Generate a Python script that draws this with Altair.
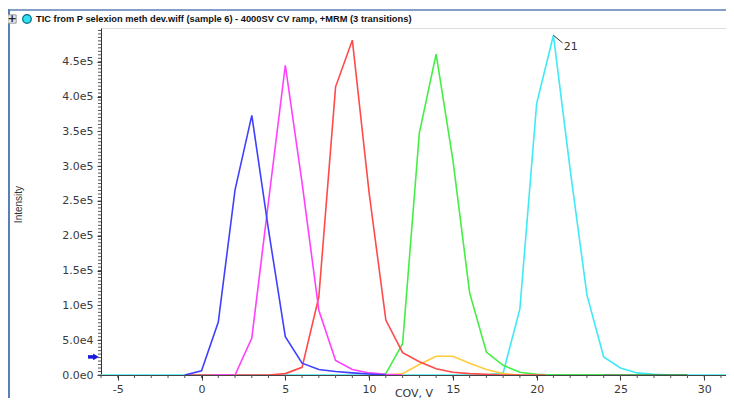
import altair as alt
import pandas as pd

# ---------------- data ----------------
title_text = ["TIC from P selexion meth dev.wiff (sample 6) - 4000SV CV ramp, +MRM (3 transitions)"]

series_names = ["cyan", "darkgreen", "yellow", "green", "red", "magenta", "blue"]
series_colors = ["#3fe9f5", "#2f8f2f", "#ffcc40", "#44ee44", "#ff4a4a", "#ff40ff", "#4040ff"]

cov_cyan = [-6, 17, 18, 19, 20, 21, 22, 23, 24, 25, 26, 27, 28, 32]
int_cyan = [0, 0, 3000, 95000, 390000, 488000, 295000, 115000, 26000, 10000, 3000, 1000, 0, 0]

cov_darkgreen = [20, 29]
int_darkgreen = [0, 0]

cov_yellow = [11, 12, 13, 14, 15, 16, 17, 18, 19]
int_yellow = [0, 2000, 15000, 27000, 27000, 17000, 8000, 2000, 0]

cov_green = [10, 11, 12, 13, 14, 15, 16, 17, 18, 19, 20, 21, 24]
int_green = [0, 2000, 45000, 348000, 461000, 309000, 118000, 33000, 14000, 4000, 1000, 0, 0]

cov_red = [-1, 4, 5, 6, 7, 8, 9, 10, 11, 12, 13, 14, 15, 16, 17, 18, 20.5]
int_red = [0, 0, 2000, 11000, 112000, 414000, 481000, 262000, 79000, 32000, 19000, 9000, 4000, 2000, 1000, 0, 0]

cov_magenta = [0.6, 2, 3, 4, 5, 6, 7, 8, 9, 10, 11, 12]
int_magenta = [0, 0, 53000, 250000, 445000, 276000, 93000, 21000, 8000, 3000, 1000, 0]

cov_blue = [-1, 0, 1, 2, 3, 4, 5, 6, 7, 8, 9, 10, 11]
int_blue = [0, 6000, 76000, 266000, 373000, 208000, 55000, 17000, 8000, 5000, 3000, 1500, 0]

x_major = [-5, 0, 5, 10, 15, 20, 25, 30]
x_minor = list(range(-6, 32))
y_major = [0, 50000, 100000, 150000, 200000, 250000, 300000, 350000, 400000, 450000]
y_minor = list(range(0, 495001, 5000))

marker_level = [26000]
peak_cov = [21]
peak_int = [488000]
peak_label = ["21"]
leader_cov2 = [21.55]
leader_int2 = [477000]

# ---------------- build tables ----------------
all_series = {
    "cyan": (cov_cyan, int_cyan),
    "darkgreen": (cov_darkgreen, int_darkgreen),
    "yellow": (cov_yellow, int_yellow),
    "green": (cov_green, int_green),
    "red": (cov_red, int_red),
    "magenta": (cov_magenta, int_magenta),
    "blue": (cov_blue, int_blue),
}
rows = []
for k, name in enumerate(series_names):
    xs, ys = all_series[name]
    for x, y in zip(xs, ys):
        rows.append({"series": name, "cov": x, "intensity": y, "k": k})
df = pd.DataFrame(rows)

W, H = 625, 347
x_scale = alt.Scale(domain=[-6, 31.3], nice=False, zero=False)
y_scale = alt.Scale(domain=[0, 498500], nice=False, zero=False)

AX_FONT = "DejaVu Sans"

lines = alt.Chart(df).mark_line(strokeWidth=1.6, clip=True).encode(
    x=alt.X("cov:Q", scale=x_scale,
            axis=alt.Axis(values=x_major, title="COV, V", grid=False,
                          labelExpr="replace(format(datum.value, 'd'), '\u2212', '-')",
                          labelFont=AX_FONT, labelFontSize=11, labelColor="#3a3a3a",
                          tickSize=5, tickColor="#333", domainColor="#444",
                          labelPadding=3, labelFlush=False,
                          titleFont=AX_FONT, titleFontSize=11, titleFontWeight="normal",
                          titleColor="#333", titleBaseline="top", titleY=12)),
    y=alt.Y("intensity:Q", scale=y_scale,
            axis=alt.Axis(values=y_major, title="Intensity", grid=False,
                          labelExpr="replace(format(datum.value, '.1e'), '+', '')",
                          labelFont=AX_FONT, labelFontSize=11, labelColor="#3a3a3a",
                          tickSize=4, tickColor="#333", domainColor="#333",
                          labelPadding=4,
                          titleFont="Liberation Sans", titleFontSize=10,
                          titleFontWeight="normal", titleColor="#333",
                          titleAngle=270, titleX=-83, titleY=176,
                          titleAlign="center", titleBaseline="middle")),
    color=alt.Color("series:N", scale=alt.Scale(domain=series_names, range=series_colors),
                    legend=None),
    detail="series:N",
)

ymin_df = pd.DataFrame({"intensity": y_minor})
y_minor_ticks = alt.Chart(ymin_df).mark_rule(color="#555", strokeWidth=1).encode(
    y=alt.Y("intensity:Q", scale=y_scale, axis=None),
    x=alt.value(-3), x2=alt.value(0),
)

xmin_df = pd.DataFrame({"cov": x_minor})
x_minor_ticks = alt.Chart(xmin_df).mark_rule(color="#555", strokeWidth=1).encode(
    x=alt.X("cov:Q", scale=x_scale, axis=None),
    y=alt.value(H), y2=alt.value(H + 3),
)

mk_df = pd.DataFrame({"intensity": marker_level})
marker_shaft = alt.Chart(mk_df).mark_rule(color="#1a1adc", strokeWidth=3.5).encode(
    y=alt.Y("intensity:Q", scale=y_scale, axis=None),
    x=alt.value(-13), x2=alt.value(-7),
)
marker_head = alt.Chart(mk_df).mark_point(shape="triangle-right", filled=True,
                                          color="#1a1adc", size=45, opacity=1).encode(
    y=alt.Y("intensity:Q", scale=y_scale, axis=None),
    x=alt.value(-5),
)

ann_df = pd.DataFrame({"cov": peak_cov, "intensity": peak_int, "label": peak_label,
                       "cov2": leader_cov2, "int2": leader_int2})
leader = alt.Chart(ann_df).mark_rule(color="#333", strokeWidth=1).encode(
    x=alt.X("cov:Q", scale=x_scale, axis=None),
    y=alt.Y("intensity:Q", scale=y_scale, axis=None),
    x2="cov2:Q", y2="int2:Q",
)
ann_text = alt.Chart(ann_df).mark_text(align="left", baseline="middle", dx=1, dy=4,
                                       font=AX_FONT, fontSize=11, color="#333").encode(
    x=alt.X("cov2:Q", scale=x_scale, axis=None),
    y=alt.Y("int2:Q", scale=y_scale, axis=None),
    text="label:N",
)

t_df = pd.DataFrame({"t": title_text})
title_mark = alt.Chart(t_df).mark_text(align="left", baseline="middle",
                                       font="Liberation Sans",
                                       fontWeight="bold", fontSize=9.3, color="#111").encode(
    text="t:N", x=alt.value(-65), y=alt.value(-9),
)
plus_box = alt.Chart(t_df).mark_point(shape="square", filled=True, size=70,
                                      color="#e6e6e6", stroke="#9a9a9a",
                                      strokeWidth=1, opacity=1).encode(
    x=alt.value(-89), y=alt.value(-9),
)
plus_text = alt.Chart(pd.DataFrame({"p": ["+"]})).mark_text(
    align="center", baseline="middle", font="DejaVu Sans", fontWeight="bold",
    fontSize=11, color="#222").encode(text="p:N", x=alt.value(-89), y=alt.value(-9.5))
cyan_dot = alt.Chart(t_df).mark_point(shape="circle", filled=True, size=75,
                                      color="#2fe0f0", stroke="#0b6c8a",
                                      strokeWidth=1.2, opacity=1).encode(
    x=alt.value(-74), y=alt.value(-9),
)

frame_left = alt.Chart(t_df).mark_rule(color="#5a7fb5", strokeWidth=2).encode(
    x=alt.value(-92), y=alt.value(-19), y2=alt.value(H + 60),
)
frame_top = alt.Chart(t_df).mark_rule(color="#5a7fb5", strokeWidth=1.5).encode(
    x=alt.value(-92), x2=alt.value(W + 10), y=alt.value(-18),
)

chart = alt.layer(
    frame_left, frame_top,
    y_minor_ticks, x_minor_ticks,
    lines,
    marker_shaft, marker_head,
    leader, ann_text,
    plus_box, plus_text, cyan_dot, title_mark,
).resolve_axis(
    x="independent", y="independent"
).properties(
    width=W, height=H,
    padding={"left": 93, "top": 20, "right": 0, "bottom": 23},
    autosize=alt.AutoSizeParams(type="none"),
).configure_view(stroke=None).configure(background="white")

chart.save("out.html", embed_options={"renderer": "svg", "actions": False})
